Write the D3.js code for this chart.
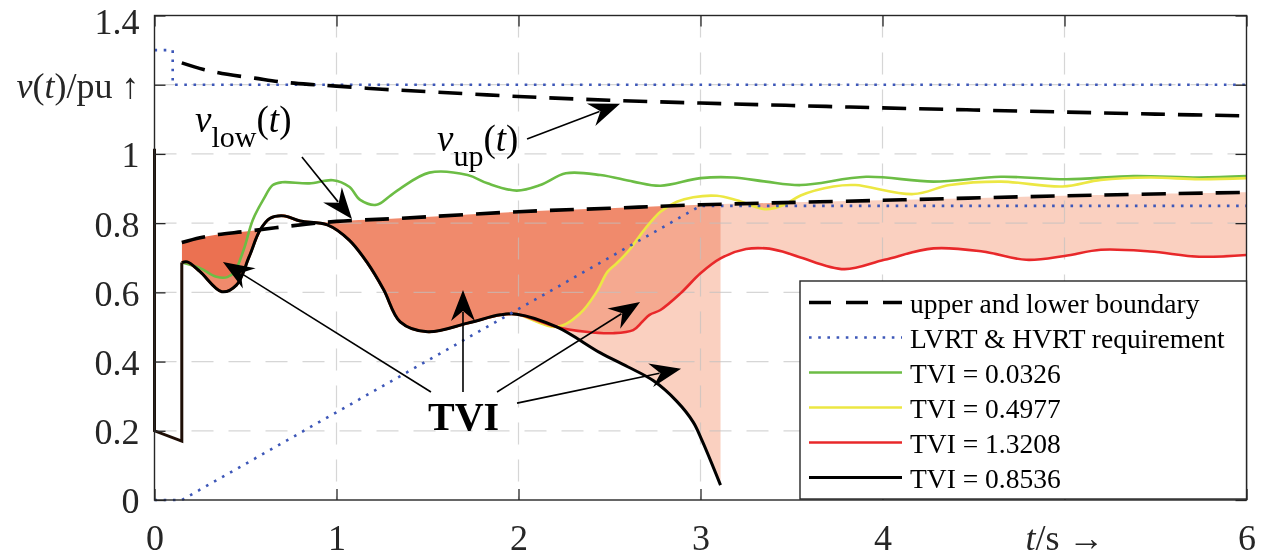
<!DOCTYPE html>
<html>
<head>
<meta charset="utf-8">
<script src="https://cdn.jsdelivr.net/npm/d3@7/dist/d3.min.js"></script>
<style>
  body { margin: 0; background: #fff; }
  svg { display: block; font-family: "Liberation Serif", "Times New Roman", serif; }
  .tvifill { mix-blend-mode: multiply; }
</style>
</head>
<body>
<div id="chart"></div>
<script>
//// tick values
const xTicks = [0, 1, 2, 3, 4, 5, 6];
const yTicks = [0, 0.2, 0.4, 0.6, 0.8, 1, 1.2, 1.4];

//// upper boundary v_up(t)
const upT = [0.15, 0.27, 0.4, 0.55, 0.7, 0.85, 1, 1.25, 1.5, 2, 2.5, 3, 3.5, 4, 4.5, 5, 5.5, 6];
const upV = [1.263, 1.244, 1.23, 1.219, 1.208, 1.201, 1.196, 1.187, 1.18, 1.166, 1.155, 1.147, 1.14, 1.133, 1.127, 1.121, 1.115, 1.11];

//// lower boundary v_low(t)
const lowT = [0.15, 0.25, 0.35, 0.5, 0.75, 1, 1.35, 2, 2.5, 3, 4, 5, 6];
const lowV = [0.744, 0.758, 0.767, 0.776, 0.792, 0.805, 0.814, 0.833, 0.843, 0.853, 0.866, 0.879, 0.889];

//// LVRT & HVRT requirement
const hvrtT = [0, 0.1, 0.1, 6];
const hvrtV = [1.3, 1.3, 1.2, 1.2];
const lvrtT = [0, 0.15, 3, 6];
const lvrtV = [0, 0, 0.85, 0.85];

//// fault (common to all cases)
const faultT = [0, 0, 0.15, 0.15];
const faultV = [1.015, 0.2, 0.17, 0.686];

//// TVI = 0.8536 (black)
const blackT = [0.15, 0.18, 0.25, 0.37, 0.45, 0.52, 0.58, 0.635, 0.71, 0.8, 0.95, 1.07, 1.17, 1.26, 1.35, 1.5, 1.72, 1.9, 1.99, 2.21, 2.45, 2.6, 2.74, 2.87, 2.96, 3.01, 3.07, 3.11];
const blackV = [0.686, 0.688, 0.66, 0.602, 0.621, 0.703, 0.78, 0.814, 0.821, 0.806, 0.795, 0.751, 0.685, 0.607, 0.515, 0.486, 0.511, 0.535, 0.537, 0.50, 0.425, 0.385, 0.345, 0.285, 0.225, 0.17, 0.095, 0.043];

//// TVI = 0.0326 (green)
const greenT = [0.15, 0.25, 0.34, 0.4, 0.44, 0.49, 0.54, 0.6, 0.65, 0.7, 0.85, 0.98, 1.07, 1.13, 1.22, 1.29, 1.35, 1.51, 1.72, 1.83, 1.99, 2.12, 2.26, 2.45, 2.63, 2.78, 3.0, 3.18, 3.36, 3.55, 3.91, 4.28, 4.65, 5.01, 5.38, 5.74, 6];
const greenV = [0.686, 0.67, 0.645, 0.644, 0.66, 0.723, 0.809, 0.87, 0.91, 0.918, 0.915, 0.924, 0.905, 0.867, 0.853, 0.877, 0.9, 0.946, 0.939, 0.915, 0.894, 0.91, 0.944, 0.939, 0.92, 0.908, 0.93, 0.932, 0.92, 0.91, 0.934, 0.92, 0.934, 0.927, 0.936, 0.932, 0.936];

//// TVI = 0.4977 (yellow) and 1.3208 (red) follow black until split
const splitT = 2.21;
const yellowT = [2.34, 2.43, 2.49, 2.54, 2.61, 2.69, 2.78, 2.87, 2.96, 3.09, 3.2, 3.36, 3.46, 3.55, 3.73, 3.85, 4.17, 4.37, 4.65, 4.99, 5.2, 5.47, 5.74, 6];
const yellowV = [0.54, 0.602, 0.66, 0.684, 0.723, 0.78, 0.833, 0.862, 0.875, 0.879, 0.866, 0.84, 0.853, 0.88, 0.906, 0.91, 0.884, 0.91, 0.92, 0.906, 0.925, 0.932, 0.927, 0.93];
const redT = [2.37, 2.52, 2.63, 2.68, 2.72, 2.78, 2.89, 3.0, 3.11, 3.25, 3.36, 3.45, 3.55, 3.79, 4.01, 4.28, 4.55, 4.79, 5.0, 5.2, 5.47, 5.74, 6];
const redV = [0.486, 0.482, 0.491, 0.515, 0.535, 0.549, 0.597, 0.655, 0.698, 0.725, 0.727, 0.718, 0.701, 0.667, 0.694, 0.727, 0.718, 0.694, 0.705, 0.723, 0.718, 0.703, 0.708];

//// legend
const legendLabels = ["upper and lower boundary", "LVRT & HVRT requirement", "TVI = 0.0326", "TVI = 0.4977", "TVI = 1.3208", "TVI = 0.8536"];

//// annotation arrows (data units)
const arrowTail = [[0.81, 0.991], [2.047, 1.043], [1.519, 0.312], [1.695, 0.312], [1.882, 0.312], [1.992, 0.28]];
const arrowTip  = [[1.085, 0.812], [2.558, 1.145], [0.376, 0.688], [1.695, 0.607], [2.668, 0.572], [2.893, 0.379]];


const W = 1266, H = 558;
const margin = {top: 15.5, right: 19.5, bottom: 58, left: 154.5};

const svg = d3.select("#chart").append("svg")
    .attr("width", W).attr("height", H);
svg.append("rect").attr("width", W).attr("height", H).attr("fill", "#fff");

const x = d3.scaleLinear().domain([0, 6]).range([margin.left, W - margin.right]);
const y = d3.scaleLinear().domain([0, 1.4]).range([H - margin.bottom, margin.top]);

const zip = (ts, vs) => ts.map((t, i) => [t, vs[i]]);

const up = zip(upT, upV);
const low = zip(lowT, lowV);
const black = zip(blackT, blackV);
const green = zip(greenT, greenV);
const yellow = black.filter(d => d[0] <= splitT).concat(zip(yellowT, yellowV));
const red = black.filter(d => d[0] <= splitT).concat(zip(redT, redV));

const smooth = d3.line().x(d => x(d[0])).y(d => y(d[1])).curve(d3.curveCatmullRom.alpha(0.5));
const straight = d3.line().x(d => x(d[0])).y(d => y(d[1]));

//// clip: region below v_low
const defs = svg.append("defs");
defs.append("clipPath").attr("id", "belowLow")
  .append("path")
    .attr("d", d3.area().x(d => x(d[0])).y0(y(0)).y1(d => y(d[1])).curve(d3.curveCatmullRom.alpha(0.5))(low));

//// TVI areas (one layer per case, overlaps get darker)
const above = d3.area().x(d => x(d[0])).y0(d => y(d[1])).y1(y(1.4)).curve(d3.curveCatmullRom.alpha(0.5));
const fills = svg.append("g").attr("clip-path", "url(#belowLow)");
[black, red, yellow, green].forEach(c => {
  fills.append("path").attr("class", "tvifill")
    .attr("d", above(c))
    .attr("fill", "rgb(250,208,192)");
});

//// grid
const grid = svg.append("g").attr("stroke", "#c0c0c0").attr("stroke-opacity", 0.65)
    .attr("stroke-width", 1.2).attr("stroke-dasharray", "22,15");
grid.selectAll(".gx").data(xTicks.slice(1, -1)).enter().append("line")
    .attr("x1", d => x(d)).attr("x2", d => x(d)).attr("y1", y(1.4)).attr("y2", y(0));
grid.selectAll(".gy").data(yTicks.slice(1, -1)).enter().append("line")
    .attr("y1", d => y(d)).attr("y2", d => y(d)).attr("x1", x(0)).attr("x2", x(6));

//// curves
svg.append("path").attr("d", smooth(green)).attr("fill", "none").attr("stroke", "#6cbd45").attr("stroke-width", 2.6);
svg.append("path").attr("d", smooth(yellow)).attr("fill", "none").attr("stroke", "#ece743").attr("stroke-width", 2.6);
svg.append("path").attr("d", smooth(red)).attr("fill", "none").attr("stroke", "#e8282a").attr("stroke-width", 2.6);
svg.append("path").attr("d", smooth(black)).attr("fill", "none").attr("stroke", "#000").attr("stroke-width", 3);
svg.append("path").attr("d", straight(zip(faultT, faultV))).attr("fill", "none")
    .attr("stroke", "#1e0e06").attr("stroke-width", 3).attr("stroke-linejoin", "miter");

//// requirement (dotted)
[zip(hvrtT, hvrtV), zip(lvrtT, lvrtV)].forEach(r => {
  svg.append("path").attr("d", straight(r)).attr("fill", "none")
    .attr("stroke", "#3d57b8").attr("stroke-width", 2.6).attr("stroke-dasharray", "2.6,6.6");
});

//// boundaries (dashed)
[up, low].forEach(b => {
  svg.append("path").attr("d", smooth(b)).attr("fill", "none")
    .attr("stroke", "#000").attr("stroke-width", 3.6).attr("stroke-dasharray", "24,13");
});

//// axes
const axisColor = "#262626";
const gx = svg.append("g").attr("transform", `translate(0,${y(0)})`)
    .call(d3.axisBottom(x).tickValues(xTicks).tickSize(-11).tickPadding(24)
      .tickFormat(d => d === 5 ? "" : d3.format("")(d)));
const gy = svg.append("g").attr("transform", `translate(${x(0)},0)`)
    .call(d3.axisLeft(y).tickValues(yTicks).tickSize(-11).tickPadding(15)
      .tickFormat(d => d === 1.2 ? "" : d3.format("")(d)));
const gt = svg.append("g").attr("transform", `translate(0,${y(1.4)})`)
    .call(d3.axisTop(x).tickValues(xTicks).tickSize(-11).tickFormat(""));
const gr = svg.append("g").attr("transform", `translate(${x(6)},0)`)
    .call(d3.axisRight(y).tickValues(yTicks).tickSize(-11).tickFormat(""));

[gx, gy, gt, gr].forEach(g => {
  g.select(".domain").remove();
  g.attr("color", axisColor).attr("font-size", 36)
   .attr("font-family", "'Liberation Serif', 'Times New Roman', serif");
  g.selectAll(".tick line").attr("stroke-width", 1.3);
});
gy.selectAll("text").attr("dy", d => d === 1.4 ? "0.5em" : "0.36em");

svg.append("rect")
    .attr("x", x(0)).attr("y", y(1.4))
    .attr("width", x(6) - x(0)).attr("height", y(0) - y(1.4))
    .attr("fill", "none").attr("stroke", axisColor).attr("stroke-width", 1.4);

//// axis titles in place of tick 1.2 and tick 5
const ylab = gy.selectAll(".tick").filter(d => d === 1.2).select("text");
ylab.append("tspan").attr("font-style", "italic").text("v");
ylab.append("tspan").text("(");
ylab.append("tspan").attr("font-style", "italic").text("t");
ylab.append("tspan").text(")/pu \u2191");

const xlab = gx.selectAll(".tick").filter(d => d === 5).select("text");
xlab.append("tspan").attr("font-style", "italic").text("t");
xlab.append("tspan").text("/s \u2192");

//// annotations
const ann = svg.append("g").attr("fill", "#000");
arrowTail.forEach((tl, i) => {
  const x0 = x(tl[0]), y0 = y(tl[1]);
  const x1 = x(arrowTip[i][0]), y1 = y(arrowTip[i][1]);
  const ang = Math.atan2(y1 - y0, x1 - x0);
  ann.append("line")
    .attr("x1", x0).attr("y1", y0)
    .attr("x2", x1 - 22 * Math.cos(ang)).attr("y2", y1 - 22 * Math.sin(ang))
    .attr("stroke", "#000").attr("stroke-width", 1.6);
  ann.append("path")
    .attr("d", "M0,0L-31,-12L-21,0L-31,12Z")
    .attr("transform", `translate(${x1},${y1}) rotate(${ang * 180 / Math.PI})`);
});

const vlow = svg.append("text").attr("x", x(0.223)).attr("y", y(1.064)).attr("font-size", 37);
vlow.append("tspan").attr("font-style", "italic").text("v");
vlow.append("tspan").attr("font-size", 30).attr("dy", 15).text("low");
vlow.append("tspan").attr("dy", -15).text("(");
vlow.append("tspan").attr("font-style", "italic").text("t");
vlow.append("tspan").text(")");

const vup = svg.append("text").attr("x", x(1.552)).attr("y", y(1.009)).attr("font-size", 37);
vup.append("tspan").attr("font-style", "italic").text("v");
vup.append("tspan").attr("font-size", 30).attr("dy", 15).text("up");
vup.append("tspan").attr("dy", -15).text("(");
vup.append("tspan").attr("font-style", "italic").text("t");
vup.append("tspan").text(")");

svg.append("text").attr("x", x(1.503)).attr("y", y(0.202))
    .attr("font-size", 40).attr("font-weight", "bold").text("TVI");

//// legend
const legend = svg.append("g");
legend.append("rect")
    .attr("x", 800).attr("y", 281).attr("width", x(6) - 800).attr("height", 218)
    .attr("fill", "#fff").attr("stroke", axisColor).attr("stroke-width", 1.4);
const legendStyle = [
  {stroke: "#000", width: 3.6, dash: "22,15"},
  {stroke: "#3d57b8", width: 2.6, dash: "2.6,6.6"},
  {stroke: "#6cbd45", width: 2.6, dash: null},
  {stroke: "#ece743", width: 2.6, dash: null},
  {stroke: "#e8282a", width: 2.6, dash: null},
  {stroke: "#000", width: 3, dash: null}
];
legendLabels.forEach((lab, i) => {
  const by = 312.5 + 35 * i;
  const s = legendStyle[i];
  legend.append("line").attr("x1", 809).attr("x2", 902).attr("y1", by - 10).attr("y2", by - 10)
    .attr("stroke", s.stroke).attr("stroke-width", s.width).attr("stroke-dasharray", s.dash);
  legend.append("text").attr("x", 910).attr("y", by).attr("font-size", 27.5).attr("fill", "#000").text(lab);
});
</script>
</body>
</html>
